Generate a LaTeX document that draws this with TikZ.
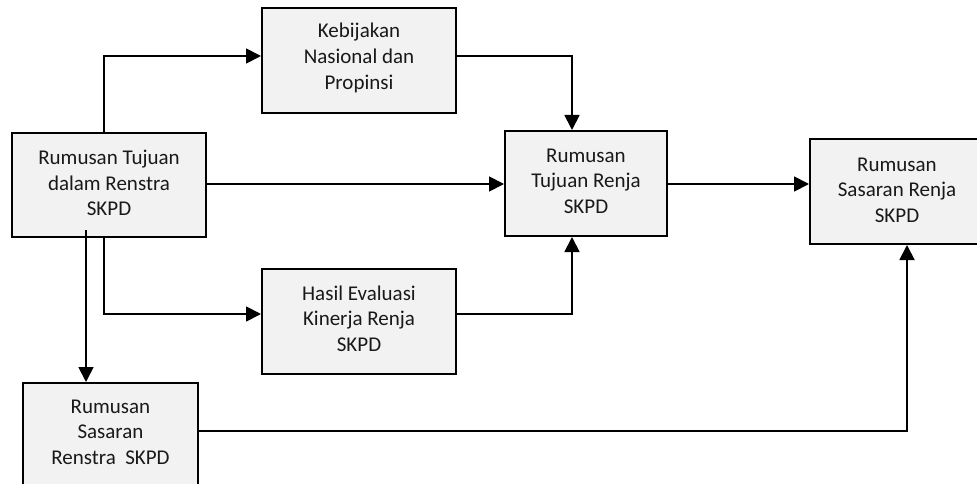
\documentclass[tikz,border=0pt]{standalone}
\usepackage{fontspec}
\setmainfont{Carlito}
\usetikzlibrary{arrows.meta}
\definecolor{boxfill}{HTML}{F2F2F2}
\begin{document}
\begin{tikzpicture}[x=1pt,y=-1pt,
  box/.style={draw=black,line width=2pt,fill=boxfill,inner sep=0pt,minimum height=105pt},
  txt/.style={align=center,inner sep=0pt,font=\fontsize{21}{25.6}\selectfont,text=black!90},
  arr/.style={line width=1.8pt,-{Triangle[length=15pt,width=15pt]}}]
\useasboundingbox (0,0) rectangle (977,484);
\clip (0,0) rectangle (977,484);
\node[box,minimum width=194pt,minimum height=104pt] (A) at (109,185) {};
\node[box,minimum width=194pt] (K) at (359,60.5) {};
\node[box,minimum width=194pt] (H) at (359,321.5) {};
\node[box,minimum width=175pt] (S) at (110.5,435.5) {};
\node[box,minimum width=162pt] (T) at (586,183.5) {};
\node[box,minimum width=174pt] (R) at (897,191.5) {};
\node[txt] (At) at ([yshift=2pt]A.center) {Rumusan Tujuan\\dalam Renstra\\SKPD};
\node[txt] (Kt) at ([yshift=2.5pt]K.center) {Kebijakan\\Nasional dan\\Propinsi};
\node[txt] (Ht) at ([yshift=3pt]H.center) {Hasil Evaluasi\\Kinerja Renja\\SKPD};
\node[txt] (St) at ([yshift=3.5pt]S.center) {Rumusan\\Sasaran\\Renstra~ SKPD};
\node[txt] (Tt) at ([yshift=2.5pt]T.center) {Rumusan\\Tujuan Renja\\SKPD};
\node[txt] (Rt) at ([yshift=1.5pt]R.center) {Rumusan\\Sasaran Renja\\SKPD};
\coordinate (p1) at (104,56);
\coordinate (p2) at (572,56);
\coordinate (p3) at (0,184);
\coordinate (p4) at (104,314);
\coordinate (p5) at (572,314);
\coordinate (p6) at (86,230);
\coordinate (p8) at (907,431);
\draw[arr] (A.north -| p1) |- (K.west |- p1);
\draw[arr] (K.east |- p2) -| (T.north -| p2);
\draw[arr] (A.east |- p3) -- (T.west |- p3);
\draw[arr] (A.south -| p4) |- (H.west |- p4);
\draw[arr] (H.east |- p5) -| (T.south -| p5);
\draw[arr] (p6) -- (S.north -| p6);
\draw[arr] (T.east |- p3) -- (R.west |- p3);
\draw[arr] (S.east |- p8) -| (R.south -| p8);
\end{tikzpicture}
\end{document}
